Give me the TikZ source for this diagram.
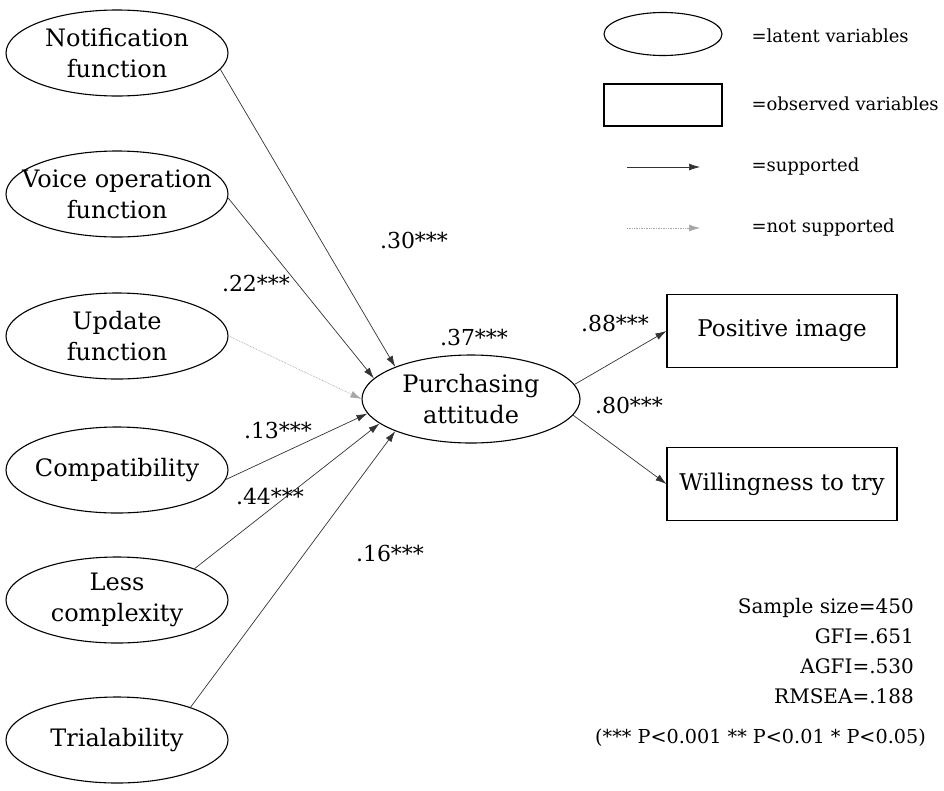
\documentclass[tikz,border=0pt]{standalone}
\usepackage{fontspec}
\setmainfont{DejaVu Serif}
\usetikzlibrary{shapes.geometric,arrows.meta}

\begin{document}
\begin{tikzpicture}[x=1pt, y=-1pt,
        latent/.style={draw, ellipse, line width=1.1pt, minimum width=222pt, minimum height=86pt, inner xsep=-22pt, inner ysep=-4pt, align=center, font=\fontsize{24}{31}\selectfont},
        observed/.style={draw, rectangle, line width=1.1pt, minimum width=230pt, minimum height=73pt, font=\fontsize{23}{31}\selectfont},
        effect/.style={draw=black!80, line width=0.7pt, -{Latex[length=11pt,width=7pt]}},
        noeffect/.style={draw=black!35, densely dotted, line width=0.7pt, -{Latex[length=11pt,width=7pt]}},
        coef/.style={font=\fontsize{22}{26}\selectfont},
        legend/.style={anchor=west, font=\fontsize{18}{22}\selectfont}]
    \useasboundingbox (0,0) rectangle (944,790);
    % exogenous latent variables
    \node[latent] (notif) at (117,53) {Notification\\function};
    \node[latent] (voice) at (117,194) {Voice operation\\function};
    \node[latent] (update) at (117,336) {Update\\function};
    \node[latent] (compat) at (117,470) {Compatibility};
    \node[latent] (lesscx) at (117,600) {Less\\complexity};
    \node[latent] (trial) at (117,740) {Trialability};
    % attitude and outcomes
    \node[latent, minimum width=218pt, minimum height=88pt] (attitude) at (471,399) {Purchasing\\attitude};
    \node[observed] (posimg) at (782,331) {Positive image};
    \node[observed] (willing) at (782,484) {Willingness to try};
    % paths
    \draw[effect] (notif.-9) -- (attitude.157);
    \draw[effect] (voice.-2) -- (attitude.168);
    \draw[noeffect] (update.0) -- (attitude.180);
    \draw[effect] (compat.-5) -- (attitude.188);
    \draw[effect] (lesscx.22) -- (attitude.195);
    \draw[effect] (trial.24) -- (attitude.203);
    \draw[effect] (attitude.8) -- (posimg.west);
    \draw[effect] (attitude.-9) -- (willing.west);
    % coefficients
    \node[coef] (c-notif) at (414,240) {.30***};
    \node[coef] (c-voice) at (256,283) {.22***};
    \node[coef] (c-att) at (474,337) {.37***};
    \node[coef] (c-pos) at (615,323) {.88***};
    \node[coef] (c-will) at (629,405) {.80***};
    \node[coef] (c-compat) at (278,430) {.13***};
    \node[coef] (c-lesscx) at (270,496) {.44***};
    \node[coef] (c-trial) at (390,553) {.16***};
    % legend
    \node[draw, ellipse, line width=1.1pt, minimum width=118pt, minimum height=43pt] (leg-lat) at (663,34) {};
    \node[draw, rectangle, line width=1.1pt, minimum width=118pt, minimum height=42pt] (leg-obs) at (663,105) {};
    \coordinate (leg-supA) at (627,167);
    \coordinate (leg-supB) at (700,167);
    \coordinate (leg-notA) at (627,228);
    \coordinate (leg-notB) at (700,228);
    \draw[effect] (leg-supA) -- (leg-supB);
    \draw[noeffect] (leg-notA) -- (leg-notB);
    \node[legend] (t-lat) at (748,36) {=latent variables};
    \node[legend] (t-obs) at (748,104) {=observed variables};
    \node[legend] (t-sup) at (748,167) {=supported};
    \node[legend] (t-not) at (748,228) {=not supported};
    % fit indices
    \node[anchor=north east, align=right, inner sep=0pt, font=\fontsize{20}{30}\selectfont] (fit) at (914,598) {Sample size=450\\GFI=.651\\AGFI=.530\\RMSEA=.188};
    \node[anchor=east, inner sep=0pt, font=\fontsize{19.2}{24}\selectfont] (signif) at (926,738) {(*** P<0.001 ** P<0.01 * P<0.05)};
\end{tikzpicture}
\end{document}
